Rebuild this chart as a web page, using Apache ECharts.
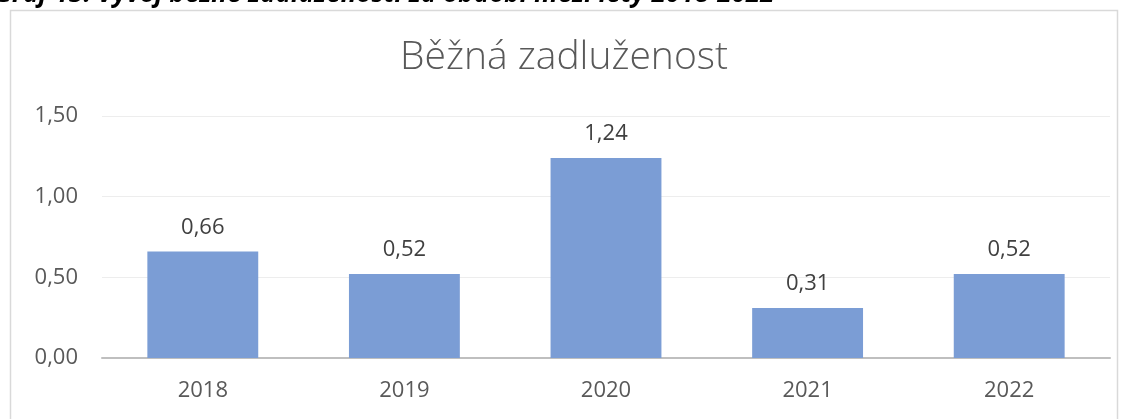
<!DOCTYPE html>
<html>
<head>
<meta charset="utf-8">
<script src="https://cdn.jsdelivr.net/npm/echarts@6/dist/echarts.min.js"></script>
<style>
  html, body { margin: 0; padding: 0; background: #fff; }
  #chart { width: 1128px; height: 419px; }
</style>
</head>
<body>
<div id="chart"></div>
<script>
// data
var years = ['2018', '2019', '2020', '2021', '2022'];
var zadluzenost = [0.66, 0.52, 1.24, 0.31, 0.52];
var yTicks = [0, 0.5, 1.0, 1.5];

function czNum(v) {
    return v.toFixed(2).replace('.', ',');
}

var myChart = echarts.init(document.getElementById('chart'));
myChart.setOption({
    animation: false,
    title: {
        text: 'Běžná zadluženost',
        left: 'center',
        top: 33,
        textStyle: {
            fontFamily: 'Open Sans',
            fontWeight: 300,
            fontSize: 39,
            color: '#595959'
        }
    },
    graphic: [{
        // ramecek grafu
        type: 'rect',
        shape: { x: 10.5, y: 10.5, width: 1107, height: 420 },
        style: { fill: 'none', stroke: '#D9D9D9', lineWidth: 1.5 },
        silent: true
    }, {
        // popisek nad grafem (orizly)
        type: 'text',
        left: -6,
        top: -18,
        style: {
            text: 'Graf 13: Vývoj běžné zadluženosti za období mezi lety 2018-2022',
            font: 'italic bold 26px "Open Sans"',
            fill: '#000'
        },
        silent: true
    }],
    grid: {
        left: 102,
        right: 18,
        top: 116,
        bottom: 61,
        containLabel: false
    },
    xAxis: [{
        type: 'category',
        data: years,
        axisTick: { show: false },
        axisLine: { lineStyle: { color: '#BFBFBF', width: 2 } },
        axisLabel: {
            margin: 22,
            fontFamily: 'Open Sans',
            fontSize: 22,
            color: '#595959'
        }
    }],
    yAxis: [{
        type: 'value',
        min: yTicks[0],
        max: yTicks[yTicks.length - 1],
        interval: 0.5,
        axisLine: { show: false },
        axisTick: { show: false },
        splitLine: { lineStyle: { color: '#EDEDED', width: 1 } },
        axisLabel: {
            margin: 24,
            fontFamily: 'Open Sans',
            fontSize: 22,
            color: '#595959',
            formatter: function (v) { return czNum(v); }
        }
    }],
    series: [{
        name: 'Běžná zadluženost',
        type: 'bar',
        data: zadluzenost,
        barWidth: '55%',
        itemStyle: { color: '#7B9DD5' },
        label: {
            show: true,
            position: 'top',
            distance: 13,
            fontFamily: 'Open Sans',
            fontSize: 22,
            color: '#404040',
            formatter: function (p) { return czNum(p.value); }
        }
    }]
});
</script>
</body>
</html>
